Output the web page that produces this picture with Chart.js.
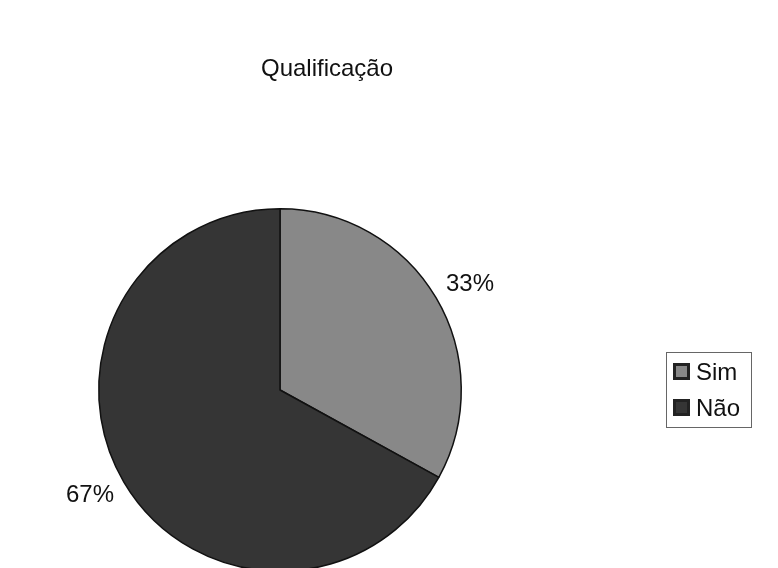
<!DOCTYPE html>
<html>
<head>
<meta charset="utf-8">
<script src="https://cdn.jsdelivr.net/npm/chart.js@4.4.0/dist/chart.umd.min.js"></script>
<style>
  html, body { margin: 0; padding: 0; background: #fff; overflow: hidden; }
  #wrap { position: relative; width: 778px; height: 600px; }
</style>
</head>
<body>
<div id="wrap"><canvas id="pieChart"></canvas></div>
<script>
// chart data
const chartTitle = 'Qualificação';
const categories = ['Sim', 'Não'];
const shares = [33, 67];
const sliceColors = ['#888888', '#353535'];

// title, drawn at a fixed spot
const titlePlugin = {
  id: 'titleText',
  afterDraw(chart) {
    const ctx = chart.ctx;
    ctx.save();
    ctx.font = '24px "Liberation Sans", Arial, sans-serif';
    ctx.fillStyle = '#111';
    ctx.textAlign = 'center';
    ctx.textBaseline = 'middle';
    ctx.fillText(chartTitle, 327, 69);
    ctx.restore();
  }
};

// percent labels outside each slice
const percentPlugin = {
  id: 'percentLabels',
  afterDatasetsDraw(chart) {
    const ctx = chart.ctx;
    const meta = chart.getDatasetMeta(0);
    ctx.save();
    ctx.font = '24px "Liberation Sans", Arial, sans-serif';
    ctx.fillStyle = '#111';
    ctx.textAlign = 'center';
    ctx.textBaseline = 'middle';
    meta.data.forEach((arc, i) => {
      // slightly clockwise of the slice middle, like the original
      const mid = (arc.startAngle + arc.endAngle) / 2 + 0.028;
      const r = arc.outerRadius + 36;
      ctx.fillText(shares[i] + '%', arc.x + Math.cos(mid) * r, arc.y + Math.sin(mid) * r);
    });
    ctx.restore();
  }
};

// boxed legend at the right
const legendPlugin = {
  id: 'boxLegend',
  afterDraw(chart) {
    const ctx = chart.ctx;
    const x = 666, y = 352, w = 85, h = 75;
    ctx.save();
    ctx.strokeStyle = '#666';
    ctx.lineWidth = 1;
    ctx.strokeRect(x + 0.5, y + 0.5, w, h);
    ctx.font = '24px "Liberation Sans", Arial, sans-serif';
    ctx.textBaseline = 'middle';
    categories.forEach((c, i) => {
      const cy = y + 20 + i * 36;
      ctx.fillStyle = '#222';
      ctx.fillRect(673, cy - 9, 17, 17);
      ctx.fillStyle = sliceColors[i];
      ctx.fillRect(676, cy - 6, 11, 11);
      ctx.fillStyle = '#111';
      ctx.fillText(c, 696, cy + 1);
    });
    ctx.restore();
  }
};

const ctx = document.getElementById('pieChart').getContext('2d');
new Chart(ctx, {
  type: 'pie',
  data: {
    labels: categories,
    datasets: [{
      data: shares,
      backgroundColor: sliceColors,
      borderColor: '#111',
      borderWidth: 1.5
    }]
  },
  options: {
    responsive: true,
    maintainAspectRatio: false,
    animation: false,
    layout: { padding: { left: 98, right: 316, top: 208, bottom: 28 } },
    plugins: {
      legend: { display: false },
      title: { display: false },
      tooltip: { enabled: false }
    }
  },
  plugins: [titlePlugin, percentPlugin, legendPlugin]
});
</script>
</body>
</html>
